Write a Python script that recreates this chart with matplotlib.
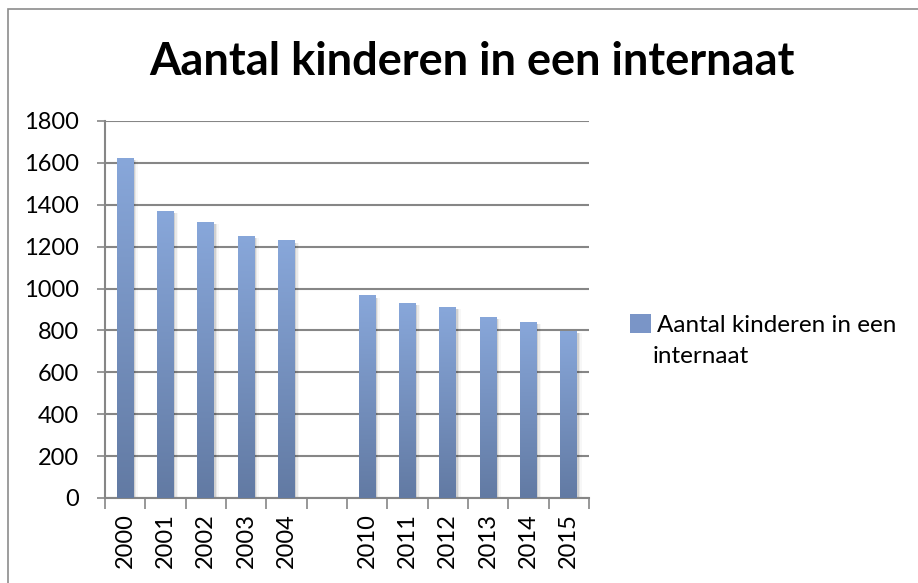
import numpy as np
import matplotlib.pyplot as plt
from matplotlib.patches import Rectangle
from matplotlib.colors import LinearSegmentedColormap

years = ["2000", "2001", "2002", "2003", "2004", "",
         "2010", "2011", "2012", "2013", "2014", "2015"]
kinderen = [1620, 1370, 1315, 1250, 1227, np.nan,
            965, 928, 909, 861, 837, 795]
reeks = "Aantal kinderen in een internaat"

plt.rcParams['font.family'] = ['Lato', 'DejaVu Sans']

fig = plt.figure(figsize=(9.18, 5.83), dpi=100)
ax = fig.add_axes([0.1144, 0.1458, 0.5272, 0.6467])

# outer chart frame (cut off at right and bottom like the source)
fig.patches.append(Rectangle((8/918, -0.1), 1.2, 1 - 9/583 + 0.1,
                             transform=fig.transFigure, fill=False,
                             edgecolor='#8c8c8c', linewidth=1.2, zorder=0))

grad = LinearSegmentedColormap.from_list('g', ['#627aa3', '#88a7da'])
x = np.arange(len(years))
w = 0.42
g = np.linspace(0, 1, 256).reshape(-1, 1)
for xi, v in zip(x, kinderen):
    if np.isnan(v):
        continue
    # soft shadow on the right side
    for k, a in enumerate([0.10, 0.06, 0.03]):
        ax.add_patch(Rectangle((xi - w/2 + 0.03 + k*0.04, 0), w, v - 8,
                               facecolor='black', alpha=a, linewidth=0, zorder=2))
    ax.imshow(g, cmap=grad, origin='lower', aspect='auto', zorder=3,
              extent=[xi - w/2, xi + w/2, 0, v], interpolation='bicubic')

ax.set_xlim(-0.5, len(years) - 0.5)
ax.set_ylim(0, 1800)
ax.set_yticks(np.arange(0, 1801, 200))
ax.set_xticks(x)
ax.set_xticklabels(years, rotation=90, fontsize=17)
ax.set_xticks(np.arange(-0.5, len(years)), minor=True)
ax.tick_params(axis='x', which='major', length=0, pad=11)
ax.tick_params(axis='x', which='minor', length=8, width=1.2, color='#868686', direction='out')
ax.tick_params(axis='y', length=6, width=1.2, color='#868686', labelsize=17, pad=13)

ax.grid(axis='y', color='#868686', linewidth=1.5, zorder=1)
ax.set_axisbelow(True)
for s in ['top', 'right']:
    ax.spines[s].set_visible(False)
for s in ['left', 'bottom']:
    ax.spines[s].set_color('#868686')
    ax.spines[s].set_linewidth(1.5)

fig.text(0.514, 0.893, reeks, ha='center', va='center',
         fontsize=32.5, fontweight='bold')

# legend: marker next to first line, label wraps onto a second line
leg = fig.legend(handles=[Rectangle((0, 0), 1, 1, facecolor='#7a95c7')],
                 labels=["Aantal kinderen in een"],
                 loc='center left', bbox_to_anchor=(0.673, 0.443),
                 frameon=False, fontsize=17.5, handlelength=0.85,
                 handleheight=0.85, handletextpad=0.25, borderpad=0)
fig.text(0.7113, 0.389, "internaat", ha='left', va='center', fontsize=17.5)

fig.savefig("out.png", dpi=100)
